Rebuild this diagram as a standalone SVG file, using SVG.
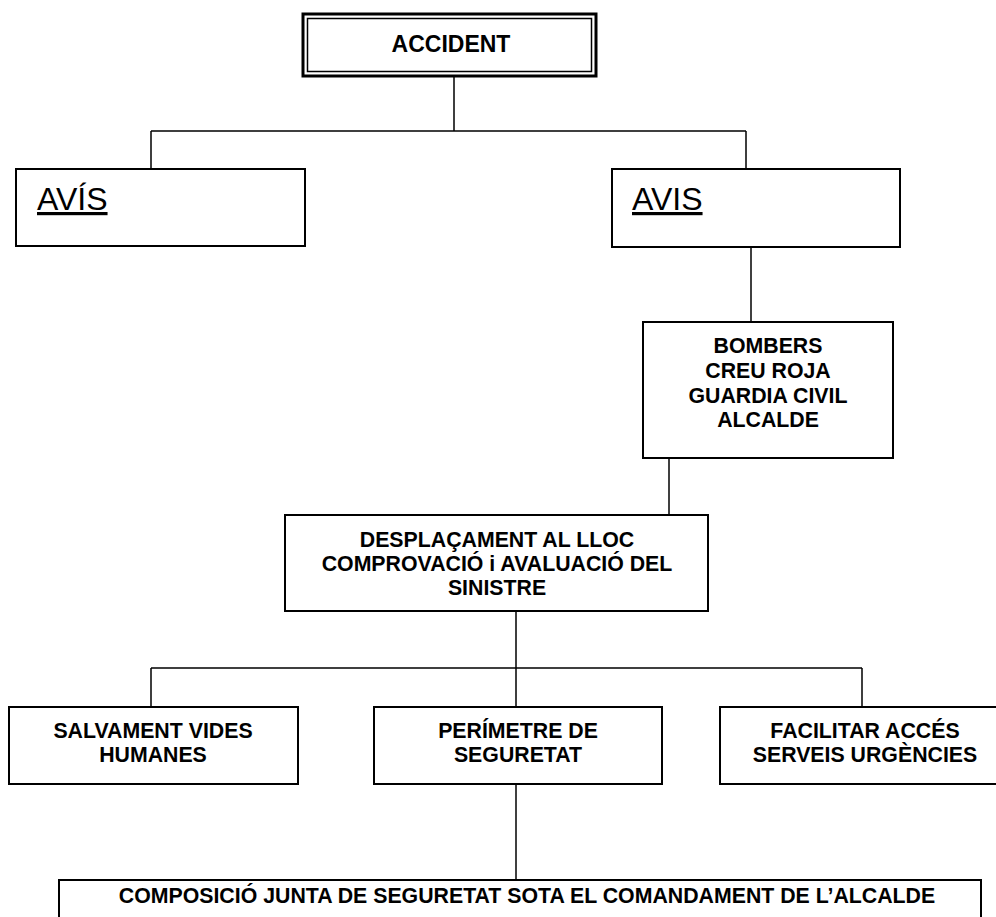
<svg xmlns="http://www.w3.org/2000/svg" width="996" height="917" viewBox="0 0 996 917">
<style>
.box{fill:#fff;stroke:#000;stroke-width:2}
.ln{fill:none;stroke:#000;stroke-width:1.5}
.b{font-family:"Liberation Sans",Arial,sans-serif;font-weight:bold;font-size:21.3px;fill:#000;text-anchor:middle}
.big{font-family:"Liberation Sans",Arial,sans-serif;font-size:32px;fill:#000;text-decoration:underline}
</style>
<rect width="996" height="917" fill="#fff"/>
<g id="connectors">
<path class="ln" d="M454,77V131M151,131H746M151,131V169M746,131V169"/>
<path class="ln" d="M751,247V322"/>
<path class="ln" d="M669,458V515"/>
<path class="ln" d="M516,611V668M151,668H862M151,668V707M516,668V707M862,668V707"/>
<path class="ln" d="M516,784V880"/>
</g>
<g id="accident">
<rect x="303" y="14" width="293" height="62" fill="#fff" stroke="#000" stroke-width="3"/>
<rect x="307.5" y="18.5" width="284" height="53" fill="none" stroke="#000" stroke-width="1.5"/>
<text class="b" x="451" y="52" style="font-size:23px">ACCIDENT</text>
</g>
<g id="avis1">
<rect class="box" x="16" y="169" width="289" height="77"/>
<text class="big" x="37" y="210">AVÍS</text>
</g>
<g id="avis2">
<rect class="box" x="612" y="169" width="288" height="78"/>
<text class="big" x="632" y="210">AVIS</text>
</g>
<g id="bombers">
<rect class="box" x="643" y="322" width="250" height="136"/>
<text class="b" x="768" y="353">BOMBERS</text>
<text class="b" x="768" y="378">CREU ROJA</text>
<text class="b" x="768" y="403">GUARDIA CIVIL</text>
<text class="b" x="768" y="427">ALCALDE</text>
</g>
<g id="desplacament">
<rect class="box" x="285" y="515" width="423" height="96"/>
<text class="b" x="497" y="547">DESPLAÇAMENT AL LLOC</text>
<text class="b" x="497" y="571">COMPROVACIÓ i AVALUACIÓ DEL</text>
<text class="b" x="497" y="595">SINISTRE</text>
</g>
<g id="salvament">
<rect class="box" x="9" y="707" width="289" height="77"/>
<text class="b" x="153" y="738">SALVAMENT VIDES</text>
<text class="b" x="153" y="762">HUMANES</text>
</g>
<g id="perimetre">
<rect class="box" x="374" y="707" width="288" height="77"/>
<text class="b" x="518" y="738">PERÍMETRE DE</text>
<text class="b" x="518" y="762">SEGURETAT</text>
</g>
<g id="facilitar">
<rect class="box" x="720" y="707" width="290" height="77"/>
<text class="b" x="865" y="738">FACILITAR ACCÉS</text>
<text class="b" x="865" y="762">SERVEIS URGÈNCIES</text>
</g>
<g id="composicio">
<rect class="box" x="59" y="880" width="922" height="60"/>
<text class="b" x="527" y="903">COMPOSICIÓ JUNTA DE SEGURETAT SOTA EL COMANDAMENT DE L’ALCALDE</text>
</g>
</svg>
